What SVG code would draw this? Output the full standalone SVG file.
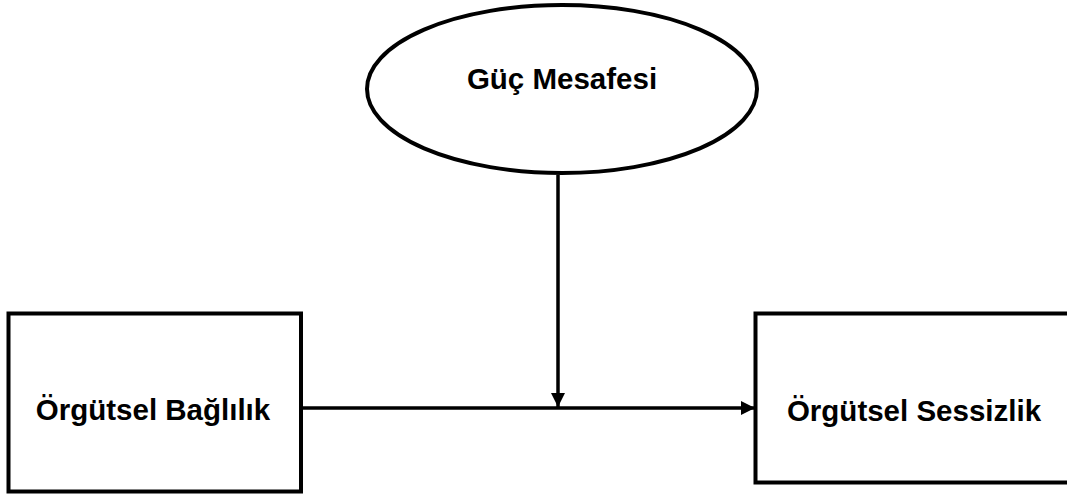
<svg xmlns="http://www.w3.org/2000/svg" width="1067" height="495" viewBox="0 0 1067 495">
<style>
.shape{fill:#fff;stroke:#000;stroke-width:4}
.lbl{font-family:"Liberation Sans",Arial,sans-serif;font-weight:bold;font-size:29.5px;fill:#000;text-anchor:middle}
.conn{stroke:#000;stroke-width:3.5;fill:none}
</style>
<defs>
<marker id="ah" viewBox="0 0 10 10" refX="10" refY="5" markerWidth="14" markerHeight="14" markerUnits="userSpaceOnUse" orient="auto">
<path d="M0,0 L10,5 L0,10 Z" fill="#000"/>
</marker>
</defs>
<rect width="1067" height="495" fill="#fff"/>
<g id="guc">
<ellipse class="shape" cx="562" cy="89" rx="195" ry="84"/>
<text class="lbl" x="562" y="89">Güç Mesafesi</text>
</g>
<g id="baglilik">
<rect class="shape" x="8.5" y="313.5" width="292.5" height="178"/>
<text class="lbl" x="153" y="420">Örgütsel Bağlılık</text>
</g>
<g id="sessizlik">
<rect class="shape" x="755.5" y="313.5" width="320" height="169"/>
<text class="lbl" x="914" y="421">Örgütsel Sessizlik</text>
</g>
<g id="connectors">
<line class="conn" x1="301" y1="408" x2="755" y2="408" marker-end="url(#ah)"/>
<line class="conn" x1="558" y1="175" x2="558" y2="407" marker-end="url(#ah)"/>
</g>
</svg>
